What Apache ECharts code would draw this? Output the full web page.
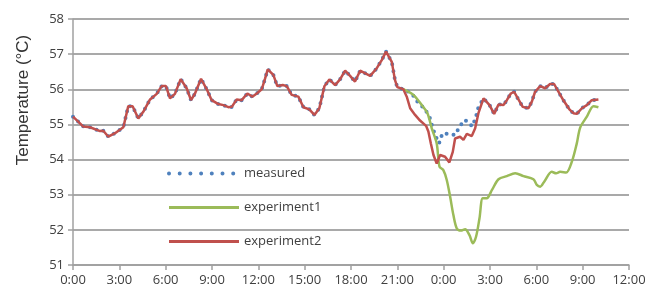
<!DOCTYPE html>
<html>
<head>
<meta charset="utf-8">
<script src="https://cdn.jsdelivr.net/npm/echarts@6/dist/echarts.min.js"></script>
<style>
  html, body { margin: 0; padding: 0; background: #fff; }
  #chart { width: 649px; height: 291px; }
</style>
</head>
<body>
<div id="chart"></div>
<script>
// time in hours from 0:00 of the first day, temperature in °C
const baseHours = [0, 0.67, 1.1, 1.75, 1.96, 2.29, 2.72, 3.26, 3.58, 3.86, 4.23, 4.55, 4.99, 5.42, 5.74, 6.02,
  6.28, 6.6, 6.97, 7.36, 7.64, 7.9, 8.29, 8.66, 8.98, 9.41, 9.74, 10.06, 10.28, 10.6, 10.92, 11.29, 11.61,
  11.9, 12.22, 12.44, 12.61, 12.97, 13.23, 13.58, 13.84, 14.16, 14.59, 14.92, 15.3, 15.63, 15.95, 16.28,
  16.6, 16.97, 17.29, 17.62, 17.94, 18.26, 18.59, 19.24, 19.67, 19.99, 20.27, 20.64, 20.85, 21.0, 21.39]
const baseTemp = [55.22, 54.94, 54.92, 54.81, 54.82, 54.65, 54.75, 54.92, 55.52, 55.52, 55.17, 55.36, 55.71,
  55.87, 56.09, 56.09, 55.74, 55.87, 56.29, 56.03, 55.69, 55.88, 56.3, 56.0, 55.69, 55.58, 55.55, 55.49,
  55.5, 55.71, 55.69, 55.88, 55.79, 55.88, 56.0, 56.31, 56.57, 56.41, 56.09, 56.12, 56.09, 55.84, 55.79,
  55.49, 55.43, 55.27, 55.46, 56.09, 56.28, 56.12, 56.28, 56.53, 56.38, 56.22, 56.53, 56.38, 56.6, 56.83,
  57.07, 56.78, 56.26, 56.06, 56.0]

// measured, the part where it leaves experiment2
const measDipHours = [21.94, 22.3, 22.8, 23.12, 23.29, 23.55, 23.7, 23.92, 24.37, 24.74, 25.06, 25.39,
  25.86, 26.08, 26.25]
const measDipTemp = [55.88, 55.65, 55.43, 55.17, 54.89, 54.6, 54.46, 54.75, 54.73, 54.7, 54.96, 55.13,
  54.94, 55.2, 55.49]

// experiment2 after 21:20
const exp2Hours = [21.61, 21.83, 22.15, 22.47, 22.86, 23.01, 23.17, 23.34, 23.55, 23.77, 24.09, 24.37,
  24.59, 24.74, 25.06, 25.28, 25.5, 25.82, 26.04, 26.25, 26.58, 26.97, 27.27, 27.55, 27.87, 28.09, 28.35,
  28.56, 28.84, 29.12, 29.49, 29.71, 29.92, 30.25, 30.57, 30.89, 31.15, 31.43, 31.76, 32.14, 32.4, 32.62,
  32.95, 33.27, 33.59, 34.02]
const exp2Temp = [55.79, 55.46, 55.27, 55.11, 54.96, 54.8, 54.46, 54.13, 53.89, 54.13, 54.08, 53.92,
  54.22, 54.6, 54.65, 54.56, 54.73, 54.67, 54.89, 55.32, 55.74, 55.55, 55.3, 55.57, 55.55, 55.69, 55.88,
  55.93, 55.71, 55.5, 55.46, 55.65, 55.93, 56.09, 56.03, 56.15, 56.15, 55.93, 55.68, 55.43, 55.32, 55.3,
  55.46, 55.55, 55.69, 55.71]

// experiment1 starts at 21:20
const exp1Hours = [21.39, 21.5, 22.04, 22.58, 22.95, 23.23, 23.55, 23.73, 23.98, 24.2, 24.42, 24.63,
  24.85, 25.11, 25.39, 25.67, 25.89, 26.1, 26.32, 26.53, 26.79, 27.12, 27.55, 28.09, 28.63, 29.17, 29.81,
  30.03, 30.25, 30.51, 31.0, 31.28, 31.54, 31.93, 32.3, 32.62, 32.84, 33.27, 33.7, 34.02]
const exp1Temp = [56.0, 55.98, 55.84, 55.55, 55.32, 54.89, 54.46, 53.8, 53.7, 53.42, 52.94, 52.42,
  52.04, 51.98, 52.02, 51.85, 51.62, 51.81, 52.33, 52.9, 52.9, 53.13, 53.44, 53.53, 53.61, 53.53, 53.44,
  53.28, 53.23, 53.37, 53.65, 53.61, 53.65, 53.63, 53.94, 54.46, 54.91, 55.22, 55.52, 55.49]

const pairs = (xs, ys) => xs.map((x, i) => [x, ys[i]])

const baseData = pairs(baseHours, baseTemp)
const exp2Data = baseData.concat(pairs(exp2Hours, exp2Temp))
// after 2:35 the measured values follow experiment2 again
const measData = baseData.concat(pairs(measDipHours, measDipTemp),
  pairs(exp2Hours, exp2Temp).filter(p => p[0] >= 26.5))
const exp1Data = pairs(exp1Hours, exp1Temp)

const font = 'Open Sans, Liberation Sans, sans-serif'
const labelColor = '#404040'

const chart = echarts.init(document.getElementById('chart'))
chart.setOption({
  animation: false,
  grid: {
    left: 73,
    right: 20,
    top: 19,
    bottom: 26
  },
  legend: {
    orient: 'vertical',
    left: 162,
    top: 162,
    itemWidth: 70,
    itemHeight: 14,
    itemGap: 21,
    itemStyle: { opacity: 0 },
    textStyle: { color: labelColor, fontSize: 13, fontFamily: font },
    data: [
      { name: 'measured', lineStyle: { type: [0, 10.7], width: 4, cap: 'round' } },
      { name: 'experiment1', lineStyle: { width: 3 } },
      { name: 'experiment2', lineStyle: { width: 3 } }
    ]
  },
  graphic: [{
    type: 'text',
    x: 23,
    y: 100,
    rotation: Math.PI / 2,
    style: {
      text: 'Temperature (°C)',
      fontSize: 17,
      fontFamily: 'Liberation Sans, sans-serif',
      fill: '#333',
      align: 'center',
      verticalAlign: 'middle'
    }
  }],
  xAxis: {
    type: 'value',
    min: 0,
    max: 36,
    interval: 3,
    axisLine: { show: true, lineStyle: { color: '#a0a0a0', width: 1.5 } },
    axisTick: { show: true, length: 5, lineStyle: { color: '#a0a0a0', width: 1.5 } },
    splitLine: { show: false },
    axisLabel: {
      color: labelColor,
      fontSize: 13,
      fontFamily: font,
      margin: 9,
      formatter: v => (v % 24) + ':00'
    }
  },
  yAxis: {
    type: 'value',
    min: 51,
    max: 58,
    interval: 1,
    axisLine: { show: true, lineStyle: { color: '#a0a0a0', width: 1.5 } },
    axisTick: { show: true, length: 5, lineStyle: { color: '#a0a0a0', width: 1.5 } },
    splitLine: { show: true, lineStyle: { color: '#8c8c8c', width: 1.5 } },
    axisLabel: {
      color: labelColor,
      fontSize: 13,
      fontFamily: font,
      margin: 9
    }
  },
  series: [{
    name: 'measured',
    type: 'line',
    symbol: 'none',
    color: '#4f81bd',
    lineStyle: { color: '#4f81bd', width: 4, type: [0, 7], cap: 'round' },
    data: measData
  },
  {
    name: 'experiment1',
    type: 'line',
    symbol: 'none',
    smooth: 0.3,
    color: '#9bbb59',
    lineStyle: { color: '#9bbb59', width: 2.5 },
    data: exp1Data
  },
  {
    name: 'experiment2',
    type: 'line',
    symbol: 'none',
    color: '#c0504d',
    lineStyle: { color: '#c0504d', width: 2.5 },
    data: exp2Data
  }
  ]
})
</script>
</body>
</html>
